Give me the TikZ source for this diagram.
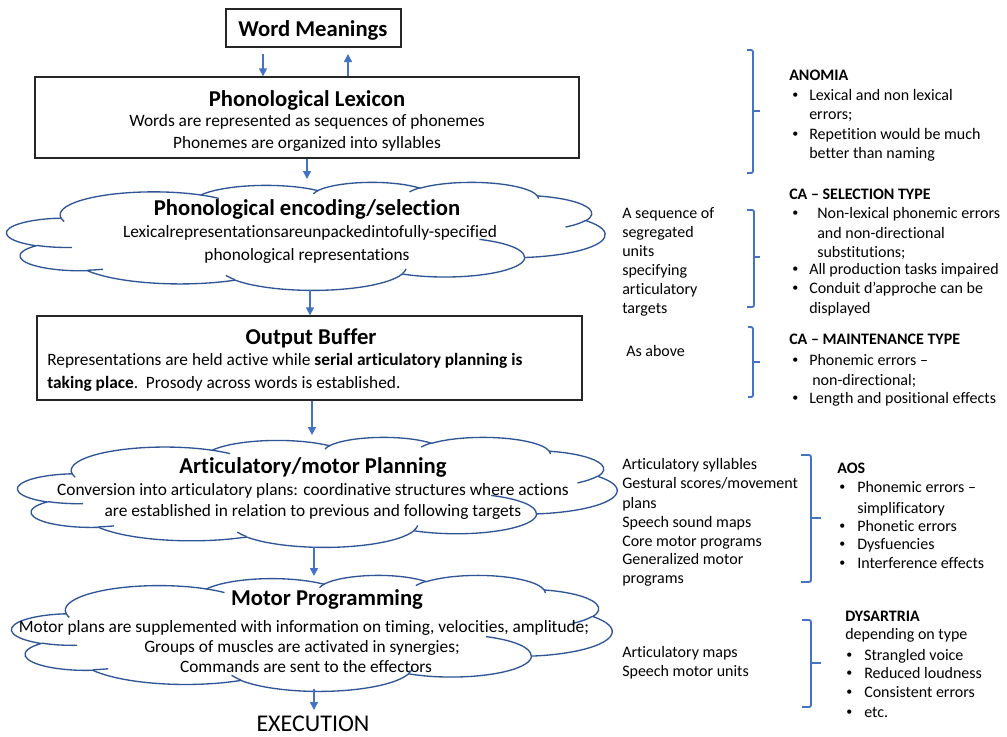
\documentclass[tikz,border=0pt]{standalone}
\usepackage{fontspec}
\setmainfont{Carlito}[Ligatures={TeX,NoCommon}]
\usetikzlibrary{fit,arrows.meta}
\definecolor{arrblue}{HTML}{4472C4}
\definecolor{cldblue}{HTML}{2F5597}
% one arc of an Office-style cloud (radii, visual start angle, sweep)
\newcommand\cldarc[4]{\pgfextra{%
  \pgfmathsetmacro\cldta{atan2((#1)*sin(#3),(#2)*cos(#3))}%
  \pgfmathsetmacro\cldtb{atan2((#1)*sin((#3)+(#4)),(#2)*cos((#3)+(#4)))}%
  \pgfmathsetmacro\cldtd{\cldtb-\cldta}%
  \pgfmathsetmacro\cldtd{ifthenelse(\cldtd<0,\cldtd+360,\cldtd)}%
}arc[start angle=\cldta, delta angle=\cldtd, x radius=#1, y radius=#2]}
\newcommand\officecloud[5]{%
\begin{scope}[shift={(#2,#3)}, xscale=#4/432, yscale=#5/432]
\draw[cloudline, fill=white] (39,143.7)
  \cldarc{67.53}{91.90}{-190.49}{123.78}
  \cldarc{53.33}{72.67}{-144.10}{89.95}
  \cldarc{43.65}{59.45}{-145.81}{99.72}
  \cldarc{48.57}{65.95}{-130.99}{117.24}
  \cldarc{53.33}{72.73}{-78.71}{109.03}
  \cldarc{67.75}{92.20}{-46.27}{130.27}
  \cldarc{57.85}{78.67}{0.63}{114.03}
  \cldarc{67.52}{92.15}{22.45}{115.17}
  \cldarc{77.20}{105.43}{66.24}{75.71}
  \cldarc{43.60}{59.52}{-274.94}{146.74}
  \cldarc{43.45}{59.45}{-246.83}{152.52} -- cycle;
\draw[cloudline] (46.93,261.77) \cldarc{43.45}{59.45}{86.74}{26.43}
  (69.28,348.99) \cldarc{43.60}{59.52}{73.61}{11.45}
  (164.78,390.90) \cldarc{67.52}{92.15}{137.62}{14.08}
  (288.27,347.51) \cldarc{67.52}{92.15}{6.45}{16.00}
  (341.29,229.54) \cldarc{57.85}{78.67}{-70.29}{70.92}
  (417.98,153.54) \cldarc{53.33}{72.73}{30.32}{27.75}
  (383.24,54.26) \cldarc{48.57}{65.95}{-13.74}{14.86}
  (290.78,39.52) \cldarc{48.57}{65.95}{-149.18}{18.20}
  (221.41,47.20) \cldarc{43.65}{59.45}{-163.49}{17.69}
  (140.00,51.92) \cldarc{67.53}{91.90}{-66.71}{12.32}
  (41.27,157.89) \cldarc{67.53}{91.90}{157.65}{11.86};
\coordinate (#1) at (216,216);
\end{scope}}
\newcommand\smbul{\raisebox{0.8pt}{\fontsize{9}{9}\selectfont •}}
\newcommand\rtx[4]{\node[rt] (#1) at (#2,#3) {#4};}
\newcommand\rbul[5]{\node[rt] (#1b) at (#2,#4) {\smbul};\node[rt] (#1) at (#3,#4) {#5};}
\tikzset{
  cloudline/.style={draw=cldblue, line width=1pt},
  arr/.style={draw=arrblue, line width=1.1pt, -{Triangle[length=6pt,width=6pt]}},
  brc/.style={draw=arrblue, line width=1.4pt, rounded corners=1.5pt},
  boxst/.style={draw=black!85, line width=1pt, inner sep=0pt},
  ttl/.style={font=\fontsize{17}{20}\selectfont\bfseries, inner sep=0pt, anchor=base},
  bdy/.style={font=\fontsize{13}{16}\selectfont, inner sep=0pt, anchor=base},
  bdyl/.style={bdy, anchor=base west},
  rt/.style={font=\fontsize{12}{14}\selectfont, inner sep=0pt, anchor=base west},
  rth/.style={rt, font=\fontsize{12}{14}\selectfont\bfseries}
}
\begin{document}
\begin{tikzpicture}[x=0.75pt,y=-0.75pt]
\useasboundingbox[fill=white] (0,0) rectangle (1007,736);
% clouds
\officecloud{cl1}{7}{182}{598}{108}
\officecloud{cl2}{18}{437}{599}{110}
\officecloud{cl3}{12}{575}{600}{116}
% boxes
\node[boxst, fit={(226,9) (401,47)}] (wm) {};
\node[boxst, fit={(35,77) (579,158)}] (lex) {};
\node[boxst, fit={(37,316) (582,400)}] (ob) {};
% left texts
\node[ttl] (wmt) at (313,36) {Word Meanings};
\node[ttl] (lext) at (307,106) {Phonological Lexicon};
\node[bdy] (lex1) at (307,126.5) {Words are represented as sequences of phonemes};
\node[bdy] (lex2) at (307,148.5) {Phonemes are organized into syllables};
\node[ttl] (c1t) at (307,215) {Phonological encoding/selection};
\node[bdy] (c1a) at (310,237.5) {Lexicalrepresentationsareunpackedintofully-specified};
\node[bdy] (c1b) at (307,260.5) {phonological representations};
\node[ttl] (obt) at (311,344) {Output Buffer};
\node[bdyl] (ob1) at (47,365.5) {Representations are held active while \textbf{serial articulatory planning is}};
\node[bdyl] (ob2) at (47,388.5) {\textbf{taking place}.\ \ Prosody across words is established.};
\node[ttl] (c2t) at (313,473) {Articulatory/motor Planning};
\node[bdy] (c2a) at (313,495.5) {Conversion into articulatory plans: coordinative structures where actions};
\node[bdy] (c2b) at (313,516.5) {are established in relation to previous and following targets};
\node[ttl] (c3t) at (327,605) {Motor Programming};
\node[bdy] (c3a) at (304,632.5) {Motor plans are supplemented with information on timing, velocities, amplitude;};
\node[bdy] (c3b) at (302,652.5) {Groups of muscles are activated in synergies;};
\node[bdy] (c3c) at (306,672.5) {Commands are sent to the effectors};
\node[font=\fontsize{18}{20}\selectfont, inner sep=0pt, anchor=base] (exec) at (313,731) {EXECUTION};
% arrows
\coordinate (wmL) at (263,54);
\coordinate (wmR) at (348,54);
\coordinate (c1in) at (307,179);
\coordinate (c1out) at (310,290);
\coordinate (c2in) at (312,435);
\coordinate (c2out) at (314,547);
\coordinate (c3in) at (314,576);
\coordinate (c3out) at (314,689);
\coordinate (exin) at (314,710);
\draw[arr] (wmL) -- (wmL |- lex.north);
\draw[arr] (wmR |- lex.north) -- (wmR);
\draw[arr] (c1in |- lex.south) -- (c1in);
\draw[arr] (c1out) -- (c1out |- ob.north);
\draw[arr] (c2in |- ob.south) -- (c2in);
\draw[arr] (c2out) -- (c3in);
\draw[arr] (c3out) -- (exin);
% braces
\draw[brc] (747,50) -- (753,50) -- (753,173) -- (747,173); \draw[brc] (753,111) -- (760,111);
\draw[brc] (747,210) -- (754,210) -- (754,307) -- (747,307); \draw[brc] (754,257) -- (760,257);
\draw[brc] (748,327) -- (753,327) -- (753,397) -- (748,397); \draw[brc] (753,362) -- (760,362);
\draw[brc] (801,455) -- (811,455) -- (811,582) -- (801,582); \draw[brc] (811,518) -- (821,518);
\draw[brc] (802,620) -- (811,620) -- (811,707) -- (802,707); \draw[brc] (811,663) -- (821,663);
% right: ANOMIA
\node[rth] (an) at (789,80) {ANOMIA};
\rbul{an1}{792}{809}{100}{Lexical and non lexical}
\rtx{an2}{809}{119}{errors;}
\rbul{an3}{792}{809}{139}{Repetition would be much}
\rtx{an4}{809}{158}{better than naming}
% CA selection
\node[rth] (cs) at (789,199) {CA – SELECTION TYPE};
\rbul{cs1}{792}{817}{218}{Non-lexical phonemic errors}
\rtx{cs2}{817}{238}{and non-directional}
\rtx{cs3}{817}{257}{substitutions;}
\rbul{cs4}{792}{809}{274}{All production tasks impaired}
\rbul{cs5}{792}{809}{293}{Conduit d’approche can be}
\rtx{cs6}{809}{313}{displayed}
\rtx{sq1}{622}{218}{A sequence of}
\rtx{sq2}{622}{237}{segregated}
\rtx{sq3}{622}{256}{units}
\rtx{sq4}{622}{275}{specifying}
\rtx{sq5}{622}{294}{articulatory}
\rtx{sq6}{622}{313}{targets}
% CA maintenance
\rtx{asab}{626}{356}{As above}
\node[rth] (cm) at (789,344) {CA – MAINTENANCE TYPE};
\rbul{cm1}{792}{809}{365}{Phonemic errors –}
\rtx{cm2}{812}{385}{non-directional;}
\rbul{cm3}{792}{809}{403}{Length and positional effects}
% AOS
\rtx{ap1}{622}{469}{Articulatory syllables}
\rtx{ap2}{622}{488}{Gestural scores/movement}
\rtx{ap3}{622}{508}{plans}
\rtx{ap4}{622}{527}{Speech sound maps}
\rtx{ap5}{622}{546}{Core motor programs}
\rtx{ap6}{622}{564}{Generalized motor}
\rtx{ap7}{622}{583}{programs}
\node[rth] (aos) at (837,473) {AOS};
\rbul{ao1}{839}{857}{492}{Phonemic errors –}
\rtx{ao2}{857}{513}{simplificatory}
\rbul{ao3}{839}{857}{531}{Phonetic errors}
\rbul{ao4}{839}{857}{549}{Dysfuencies}
\rbul{ao5}{839}{857}{568}{Interference effects}
% Dysartria
\rtx{mp1}{622}{657}{Articulatory maps}
\rtx{mp2}{622}{676}{Speech motor units}
\node[rth] (dy) at (845,621) {DYSARTRIA};
\rtx{dy0}{845}{639}{depending on type}
\rbul{dy1}{846}{864}{660}{Strangled voice}
\rbul{dy2}{846}{864}{678}{Reduced loudness}
\rbul{dy3}{846}{864}{697}{Consistent errors}
\rbul{dy4}{846}{864}{717}{etc.}
\end{tikzpicture}
\end{document}
